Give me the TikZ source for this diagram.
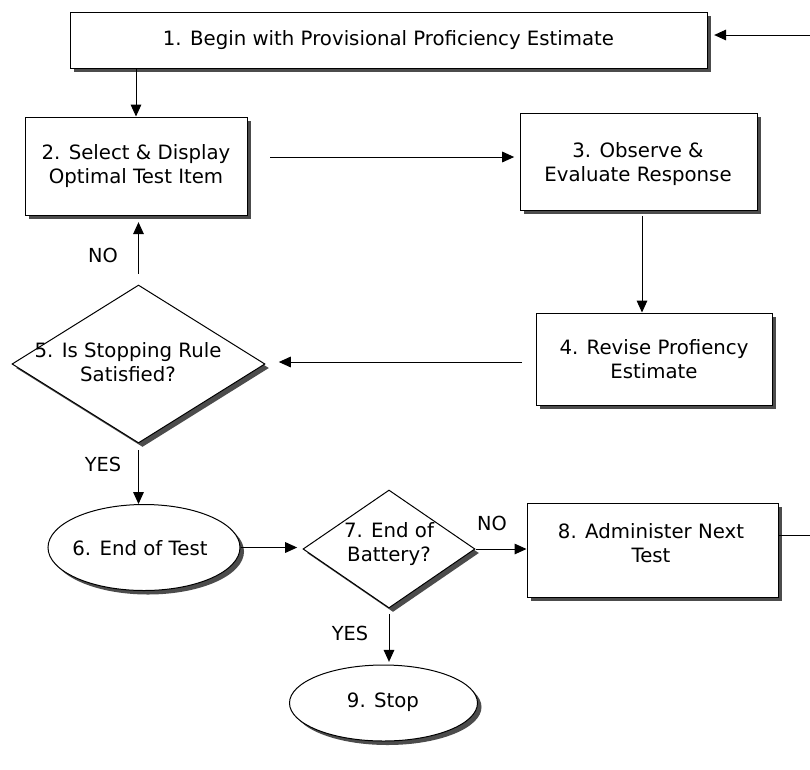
\documentclass[tikz,border=0pt]{standalone}
\usepackage{fontspec}
\setmainfont{DejaVu Sans}
\usetikzlibrary{shapes.geometric,arrows.meta,shadows}

\tikzset{every picture/.style={line width=0.75pt}}
\tikzset{
  boxshadow/.style={drop shadow={shadow xshift=3pt,shadow yshift=-3pt,fill=black!70,opacity=1}},
  procbox/.style={draw,fill=white,rectangle,boxshadow,align=center,inner sep=0pt},
  decision/.style={draw,fill=white,diamond,boxshadow,inner sep=0pt},
  terminal/.style={draw,fill=white,ellipse,boxshadow,inner sep=0pt,align=center},
  flowtext/.style={align=center,font=\fontsize{14.8}{17.5}\selectfont},
  flowarrow/.style={-{Triangle[length=9pt,width=8pt]}},
  edgelabel/.style={font=\fontsize{14.5}{16}\selectfont}
}

\begin{document}
\begin{tikzpicture}[x=0.75pt,y=0.75pt,yscale=-1,xscale=1]
    \useasboundingbox (0,0) rectangle (810,769);

    %Shape: Rectangle [1]
    \node (b1) at (388.5,40) [procbox,minimum width=477.75pt,minimum height=42pt] {};
    \node (t1) at (b1.center) [flowtext] {1. Begin with Provisional Proficiency Estimate};
    %Shape: Rectangle [2]
    \node (b2) at (136,166) [procbox,minimum width=166.5pt,minimum height=73.5pt] {};
    \node (t2) at (b2.center) [flowtext] {2. Select \& Display\\Optimal Test Item};
    %Shape: Rectangle [3]
    \node (b3) at (638.5,161.5) [procbox,minimum width=177.75pt,minimum height=72.75pt] {};
    \node (t3) at (638,164) [flowtext] {3. Observe \&\\Evaluate Response};
    %Shape: Rectangle [4]
    \node (b4) at (654,359) [procbox,minimum width=177pt,minimum height=69pt] {};
    \node (t4) at (b4.center) [flowtext] {4. Revise Profiency\\Estimate};
    %Shape: Diamond [5]
    \node (d5) at (138.5,364) [decision,minimum width=189.75pt,minimum height=118.5pt] {};
    \node (t5) at (128,362) [flowtext] {5. Is Stopping Rule\\Satisfied?};
    %Shape: Ellipse [6]
    \node (e6) at (144,547.5) [terminal,minimum width=144pt,minimum height=64.5pt] {};
    \node (t6) at (140,548) [flowtext] {6. End of Test};
    %Shape: Diamond [7]
    \node (d7) at (389,549) [decision,minimum width=129pt,minimum height=88.5pt] {};
    \node (t7) at (389,544) [flowtext] {7. End of\\Battery?};
    %Shape: Rectangle [8]
    \node (b8) at (652.5,550) [procbox,minimum width=188.25pt,minimum height=70.5pt] {};
    \node (t8) at (651,543) [flowtext] {8. Administer Next\\Test};
    %Shape: Ellipse [9]
    \node (e9) at (383.5,703) [terminal,minimum width=141pt,minimum height=57pt] {};
    \node (t9) at (383,702) [flowtext] {9. Stop};

    %Straight Lines
    \draw [flowarrow] (b1.south -| b2.north) -- (b2.north);
    \draw [flowarrow,shorten <=17pt,shorten >=4pt] (b2.east |- 0,157) -- (b3.west |- 0,157);
    \draw [flowarrow,shorten <=4pt] (b3.south -| 642,0) -- (b4.north -| 642,0);
    \draw [flowarrow,shorten <=10pt,shorten >=10pt] (b4.west |- 0,362) -- (d5.east |- 0,362);
    \draw [flowarrow,shorten <=8pt,shorten >=5pt] (d5.north) -- (b2.south -| d5.north);
    \draw [flowarrow,shorten <=5pt] (d5.south) -- (e6.north -| d5.south);
    \draw [flowarrow,shorten >=4pt] (e6.east) -- (d7.west |- e6.east);
    \draw [flowarrow] (d7.east) -- (b8.west |- d7.east);
    \draw [flowarrow,shorten <=4pt,shorten >=2pt] (d7.south) -- (e9.north -| d7.south);

    %Loop back to the start
    \coordinate (r8) at (810,535);
    \coordinate (r1) at (810,35);
    \draw (b8.east |- r8) -- (r8);
    \draw [flowarrow,shorten >=5pt] (r1) -- (b1.east |- r1);

    % Text Node
    \node (no5) at (103,255) [edgelabel] {NO};
    % Text Node
    \node (yes5) at (103,464) [edgelabel] {YES};
    % Text Node
    \node (no7) at (492,523) [edgelabel] {NO};
    % Text Node
    \node (yes7) at (350,633) [edgelabel] {YES};
\end{tikzpicture}
\end{document}
